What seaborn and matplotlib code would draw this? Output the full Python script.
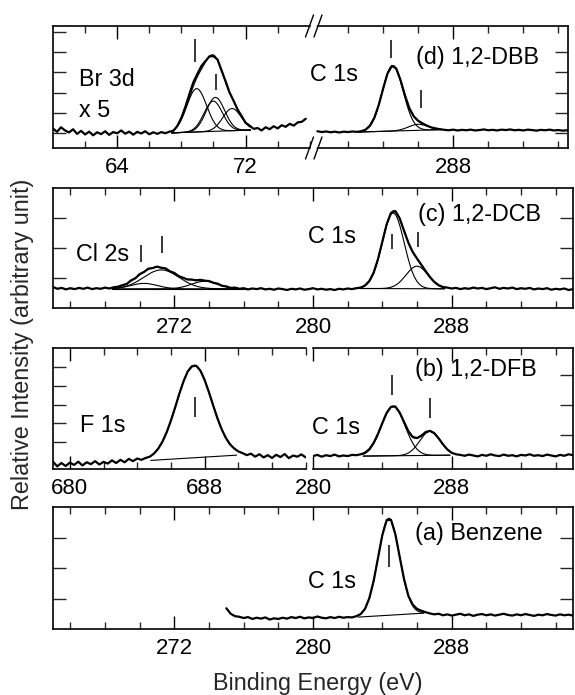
import numpy as np
import matplotlib
matplotlib.use("Agg")
import matplotlib.pyplot as plt
from matplotlib.lines import Line2D
from matplotlib.patches import Polygon
import seaborn as sns

STEP = 0.25  # eV per channel of the stored spectra

# ---------------- (a) Benzene : C 1s ----------------
a_c1s_start = 275.0
a_c1s = [
    0.68, 0.50, 0.42, 0.40, 0.36, 0.39, 0.33, 0.37,   # 275
    0.34, 0.38, 0.31, 0.35, 0.33, 0.37, 0.34, 0.39,   # 277
    0.36, 0.40, 0.35, 0.38, 0.36, 0.41, 0.37, 0.35,   # 279
    0.39, 0.36, 0.40, 0.37, 0.39, 0.38, 0.42, 0.49,   # 281
    0.66, 1.01, 1.58, 2.33, 3.08, 3.57, 3.58, 3.11,   # 283
    2.37, 1.64, 1.09, 0.80, 0.66, 0.60, 0.55, 0.51,   # 285
    0.48, 0.50, 0.45, 0.48, 0.44, 0.47, 0.50, 0.45,   # 287
    0.48, 0.43, 0.47, 0.49, 0.45, 0.48, 0.44, 0.47,   # 289
    0.50, 0.46, 0.44, 0.48, 0.45, 0.49, 0.46, 0.43,   # 291
    0.47, 0.45, 0.49, 0.46, 0.44, 0.48, 0.45, 0.47,   # 293
    0.44,                                             # 295
]
a_c1s_bg = [(282.6, 0.39), (286.4, 0.52)]
a_c1s_peaks = [(284.375, 3.18, 1.45)]          # centre, height, FWHM
a_c1s_marks = [(284.40, 2.03, 2.75)]           # energy, y from, y to

# ---------------- (b) 1,2-DFB : F 1s ----------------
b_f1s_start = 679.0
b_f1s = [
    -0.05, -0.30, -0.12, -0.28, -0.10, -0.22, -0.05, -0.25,   # 679
    -0.08, -0.18, -0.02, -0.20, -0.06, -0.15, 0.02, -0.12,    # 681
    0.05, -0.08, 0.10, -0.02, 0.12, 0.05, 0.15, 0.22,         # 683
    0.39, 0.65, 1.03, 1.53, 2.15, 2.85, 3.59, 4.25,           # 685
    4.78, 5.05, 5.08, 4.82, 4.32, 3.68, 2.98, 2.30,           # 687
    1.71, 1.24, 0.89, 0.66, 0.50, 0.41, 0.30, 0.38,           # 689
    0.22, 0.35, 0.18, 0.30, 0.15, 0.32, 0.20, 0.36,           # 691
    0.14, 0.28, 0.22, 0.34, 0.18,                             # 693
]
b_f1s_bg = [(684.8, 0.02), (689.9, 0.30)]
b_f1s_peaks = [(687.375, 4.95, 2.45)]
b_f1s_marks = [(687.40, 2.34, 3.41)]

# ---------------- (b) 1,2-DFB : C 1s ----------------
b_c1s_start = 280.0
b_c1s = [
    0.30, 0.34, 0.28, 0.33, 0.30, 0.35, 0.29, 0.32,   # 280
    0.30, 0.34, 0.33, 0.36, 0.41, 0.53, 0.74, 1.04,   # 282
    1.40, 1.74, 1.94, 1.95, 1.75, 1.44, 1.13, 0.94,   # 284
    0.90, 0.98, 1.10, 1.14, 1.06, 0.89, 0.69, 0.52,   # 286
    0.41, 0.36, 0.34, 0.31, 0.35, 0.32, 0.29, 0.34,   # 288
    0.31, 0.36, 0.32, 0.30, 0.35, 0.31, 0.33, 0.29,   # 290
    0.34, 0.32, 0.36, 0.31, 0.33, 0.30, 0.35, 0.32,   # 292
    0.29, 0.34, 0.31, 0.36, 0.33,                     # 294
]
b_c1s_bg = [(282.9, 0.30), (287.9, 0.33)]
b_c1s_peaks = [(284.625, 1.65, 1.6), (286.75, 0.80, 1.4)]
b_c1s_marks = [(284.57, 2.34, 3.00), (286.75, 1.57, 2.24)]

# ---------------- (c) 1,2-DCB : Cl 2s and C 1s ----------------
c_start = 265.0
c_spec = [
    0.70, 0.64, 0.67, 0.62, 0.66, 0.63, 0.67, 0.64,   # 265
    0.68, 0.63, 0.66, 0.64, 0.68, 0.65, 0.69, 0.71,   # 267
    0.76, 0.80, 0.92, 0.99, 1.13, 1.20, 1.31, 1.33,   # 269
    1.38, 1.34, 1.32, 1.22, 1.17, 1.06, 1.01, 0.95,   # 271
    0.95, 0.92, 0.94, 0.91, 0.90, 0.84, 0.81, 0.74,   # 273
    0.72, 0.67, 0.68, 0.64, 0.66, 0.62, 0.65, 0.63,   # 275
    0.66, 0.62, 0.64, 0.61, 0.65, 0.63, 0.60, 0.64,   # 277
    0.62, 0.65, 0.61, 0.63, 0.66, 0.62, 0.64, 0.61,   # 279
    0.63, 0.60, 0.64, 0.62, 0.65, 0.63, 0.66, 0.68,   # 281
    0.75, 0.90, 1.18, 1.63, 2.21, 2.79, 3.17, 3.23,   # 283
    2.99, 2.58, 2.18, 1.87, 1.65, 1.44, 1.23, 1.03,   # 285
    0.87, 0.76, 0.70, 0.68, 0.65, 0.67, 0.63, 0.66,   # 287
    0.64, 0.68, 0.65, 0.67, 0.63, 0.66, 0.69, 0.64,   # 289
    0.67, 0.65, 0.68, 0.63, 0.66, 0.64, 0.67, 0.62,   # 291
    0.65, 0.63, 0.66, 0.61, 0.64, 0.62, 0.65, 0.60,   # 293
    0.63,                                             # 295
]
c_cl2s_bg = [(268.4, 0.64), (276.2, 0.64)]
c_cl2s_peaks = [(271.25, 0.63, 2.4), (270.25, 0.18, 1.8), (273.75, 0.25, 1.8)]
c_cl2s_marks = [(270.10, 1.54, 2.10), (271.27, 1.82, 2.41)]
c_c1s_bg = [(282.6, 0.65), (287.6, 0.64)]
c_c1s_peaks = [(284.625, 2.52, 1.5), (286.0, 0.75, 1.5)]
c_c1s_marks = [(284.55, 1.96, 2.47), (286.03, 2.04, 2.54)]

# ---------------- (d) 1,2-DBB : Br 3d (x5) ----------------
d_br3d_start = 60.0
d_br3d = [
    0.22, 0.05, 0.28, 0.12, 0.02, 0.18, -0.05, 0.10,    # 60
    -0.08, 0.06, -0.12, 0.03, -0.06, 0.08, -0.10, 0.04, # 62
    -0.02, 0.12, -0.04, 0.06, -0.09, 0.05, -0.03, 0.08, # 64
    -0.07, 0.03, -0.05, 0.04, -0.02, 0.06, 0.10, 0.35,  # 66
    0.75, 1.30, 1.93, 2.52, 2.93, 3.32, 3.56, 3.80,     # 68
    3.80, 3.64, 3.10, 2.57, 2.00, 1.60, 1.16, 0.84,     # 70
    0.50, 0.36, 0.20, 0.24, 0.12, 0.28, 0.18, 0.33,     # 72
    0.22, 0.38, 0.30, 0.45, 0.36, 0.52, 0.55, 0.70,     # 74
]
d_br3d_bg = [(67.4, 0.00), (72.3, 0.14)]
d_br3d_peaks = [(68.95, 2.15, 1.45), (69.98, 1.50, 1.35),
                (70.12, 1.68, 1.35), (71.15, 1.10, 1.35)]
d_br3d_marks = [(68.85, 3.52, 4.68), (70.13, 2.12, 2.91)]

# ---------------- (d) 1,2-DBB : C 1s ----------------
d_c1s_start = 280.25
d_c1s = [
    0.08, 0.04, 0.07, 0.03, 0.06, 0.02, 0.06,         # 280.25
    0.04, 0.07, 0.05, 0.08, 0.16, 0.36, 0.75, 1.38,   # 282
    2.19, 2.94, 3.32, 3.19, 2.60, 1.85, 1.22, 0.82,   # 284
    0.60, 0.47, 0.36, 0.27, 0.22, 0.18, 0.15, 0.13,   # 286
    0.16, 0.12, 0.15, 0.13, 0.16, 0.12, 0.14, 0.17,   # 288
    0.13, 0.15, 0.12, 0.16, 0.14, 0.17, 0.13, 0.15,   # 290
    0.12, 0.16, 0.14, 0.11, 0.15, 0.13, 0.16, 0.12,   # 292
    0.14, 0.11, 0.13,                                 # 294
]
d_c1s_bg = [(282.6, 0.04), (287.3, 0.16)]
d_c1s_peaks = [(284.55, 3.24, 1.4), (286.0, 0.30, 1.3)]
d_c1s_marks = [(284.43, 3.69, 4.60), (286.14, 1.22, 2.12)]

# ---------------------------------------------------------------------
sns.set_theme(style="ticks")
plt.rcParams["font.family"] = ["Liberation Sans", "DejaVu Sans"]
plt.rcParams["axes.linewidth"] = 1.2

W, H = 575, 695
fig = plt.figure(figsize=(W / 100, H / 100), dpi=100)

TICK_FS = 16
TEXT_FS = 16.8
DATA_LW = 1.6
FIT_LW = 0.8


def px_axes(x0, x1, top, bottom):
    return fig.add_axes([x0 / W, 1 - bottom / H, (x1 - x0) / W, (bottom - top) / H])


def gauss(e, centre, height, fwhm):
    return height * np.exp(-4 * np.log(2) * (e - centre) ** 2 / fwhm ** 2)


def style(ax, xlim, ylim, xmajor, xminor, yticks, left=True, right=True):
    ax.set_xlim(*xlim)
    ax.set_ylim(*ylim)
    ax.set_xticks(xmajor)
    ax.set_xticks(xminor, minor=True)
    ax.set_yticks(yticks)
    ax.set_yticklabels([])
    ax.set_xlabel("")
    ax.set_ylabel("")
    ax.tick_params(axis="x", which="major", direction="in", length=9.4, width=1.0,
                   top=True, bottom=True, labelsize=TICK_FS, pad=6.5, colors="black")
    ax.tick_params(axis="x", which="minor", direction="in", length=5, width=1.0,
                   top=True, bottom=True)
    ax.tick_params(axis="y", which="major", direction="in", length=9.4, width=1.0,
                   left=left, right=right, labelleft=False, labelright=False)
    ax.spines["left"].set_visible(left)
    ax.spines["right"].set_visible(right)
    for s in ax.spines.values():
        s.set_color("black")
    ax.set_facecolor("white")


def draw_region(ax, start, counts, bg, peaks, marks, draw_counts=True):
    if draw_counts:
        e = start + STEP * np.arange(len(counts))
        sns.lineplot(x=e, y=np.asarray(counts), ax=ax, color="black",
                     linewidth=DATA_LW, estimator=None, sort=False, legend=False)
    (e0, b0), (e1, b1) = bg
    grid = np.linspace(e0, e1, 300)
    base = b0 + (b1 - b0) * (grid - e0) / (e1 - e0)
    sns.lineplot(x=grid, y=base, ax=ax, color="black", linewidth=FIT_LW,
                 estimator=None, sort=False, legend=False)
    total = base.copy()
    for c, h, w in peaks:
        comp = gauss(grid, c, h, w)
        total = total + comp
        sns.lineplot(x=grid, y=base + comp, ax=ax, color="black", linewidth=FIT_LW,
                     estimator=None, sort=False, legend=False)
    if len(peaks) > 1:
        sns.lineplot(x=grid, y=total, ax=ax, color="black", linewidth=FIT_LW,
                     estimator=None, sort=False, legend=False)
    for em, y0, y1 in marks:
        ax.vlines(em, y0, y1, color="black", linewidth=1.1)


def label(ax, x, y, s):
    ax.text(x, y, s, ha="left", va="center", fontsize=TEXT_FS, color="black")


c_major = [272, 280, 288]
c_minor = [266, 268, 270, 274, 276, 278, 282, 284, 286, 290, 292, 294]

# ---- (d) ----
axd1 = px_axes(53, 313, 26, 148)
axd2 = px_axes(313, 568, 26, 148)
draw_region(axd1, d_br3d_start, d_br3d, d_br3d_bg, d_br3d_peaks, d_br3d_marks)
draw_region(axd2, d_c1s_start, d_c1s, d_c1s_bg, d_c1s_peaks, d_c1s_marks)
style(axd1, (60, 76.2), (-0.75, 5.3), [64, 72], [62, 66, 68, 70, 74, 76],
      [0, 1, 2, 3, 4, 5], left=True, right=False)
style(axd2, (280, 294.55), (-0.75, 5.3), [288], [282, 284, 286, 290, 292, 294],
      [0, 1, 2, 3, 4], left=False, right=True)
label(axd1, 61.6, 2.67, "Br 3d")
label(axd1, 61.6, 1.13, "x 5")
label(axd2, 279.83, 2.91, "C 1s")
label(axd2, 285.88, 3.75, "(d) 1,2-DBB")

# ---- (c) ----
axc = px_axes(53, 573, 188, 308)
e_c = c_start + STEP * np.arange(len(c_spec))
sns.lineplot(x=e_c, y=np.asarray(c_spec), ax=axc, color="black", linewidth=DATA_LW,
             estimator=None, sort=False, legend=False)
draw_region(axc, c_start, c_spec, c_cl2s_bg, c_cl2s_peaks, c_cl2s_marks, draw_counts=False)
draw_region(axc, c_start, c_spec, c_c1s_bg, c_c1s_peaks, c_c1s_marks, draw_counts=False)
style(axc, (265, 295), (0, 4), c_major, c_minor, [1, 2, 3])
label(axc, 266.34, 1.77, "Cl 2s")
label(axc, 279.7, 2.38, "C 1s")
label(axc, 286.07, 3.10, "(c) 1,2-DCB")

# ---- (b) ----
axb1 = px_axes(53, 305.7, 348, 469)
axb2 = px_axes(313, 573, 348, 469)
draw_region(axb1, b_f1s_start, b_f1s, b_f1s_bg, b_f1s_peaks, b_f1s_marks)
draw_region(axb2, b_c1s_start, b_c1s, b_c1s_bg, b_c1s_peaks, b_c1s_marks)
style(axb1, (679, 694), (-0.44, 6.03), [680, 688], [682, 684, 686, 690, 692, 694],
      [1, 2, 3, 4, 5], left=True, right=False)
style(axb2, (280, 295), (-0.13, 3.9), [280, 288], [282, 284, 286, 290, 292, 294],
      [1, 2, 3], left=False, right=True)
label(axb1, 680.6, 1.86, "F 1s")
label(axb2, 279.94, 1.24, "C 1s")
label(axb2, 285.9, 3.17, "(b) 1,2-DFB")

# ---- (a) ----
axa = px_axes(53, 573, 507, 629)
draw_region(axa, a_c1s_start, a_c1s, a_c1s_bg, a_c1s_peaks, a_c1s_marks)
style(axa, (265, 295), (0, 4), c_major, c_minor, [1, 2, 3])
label(axa, 279.7, 1.55, "C 1s")
label(axa, 285.9, 3.14, "(a) Benzene")


# ---- axis-break marks on panel (d) ----
def fpt(px, py):
    return (px / W, 1 - py / H)


for yc in (26, 148):
    a0, a1 = fpt(305.5, yc + 11), fpt(313.5, yc - 11)
    b0, b1 = fpt(314.0, yc + 11), fpt(322.0, yc - 11)
    fig.add_artist(Polygon([fpt(306.8, yc + 11), fpt(314.8, yc - 11),
                            fpt(320.7, yc - 11), fpt(312.7, yc + 11)],
                           closed=True, transform=fig.transFigure,
                           facecolor="white", edgecolor="none", zorder=5))
    for p0, p1 in ((a0, a1), (b0, b1)):
        fig.add_artist(Line2D([p0[0], p1[0]], [p0[1], p1[1]], transform=fig.transFigure,
                              color="black", linewidth=1.0, zorder=6))

fig.text(23 / W, 1 - 344 / H, "Relative Intensity (arbitrary unit)", rotation=90,
         ha="center", va="center", fontsize=TEXT_FS)
fig.text(317.5 / W, 1 - 690 / H, "Binding Energy (eV)", ha="center", va="baseline",
         fontsize=TEXT_FS)

fig.savefig("out.png", dpi=100, facecolor="white")
